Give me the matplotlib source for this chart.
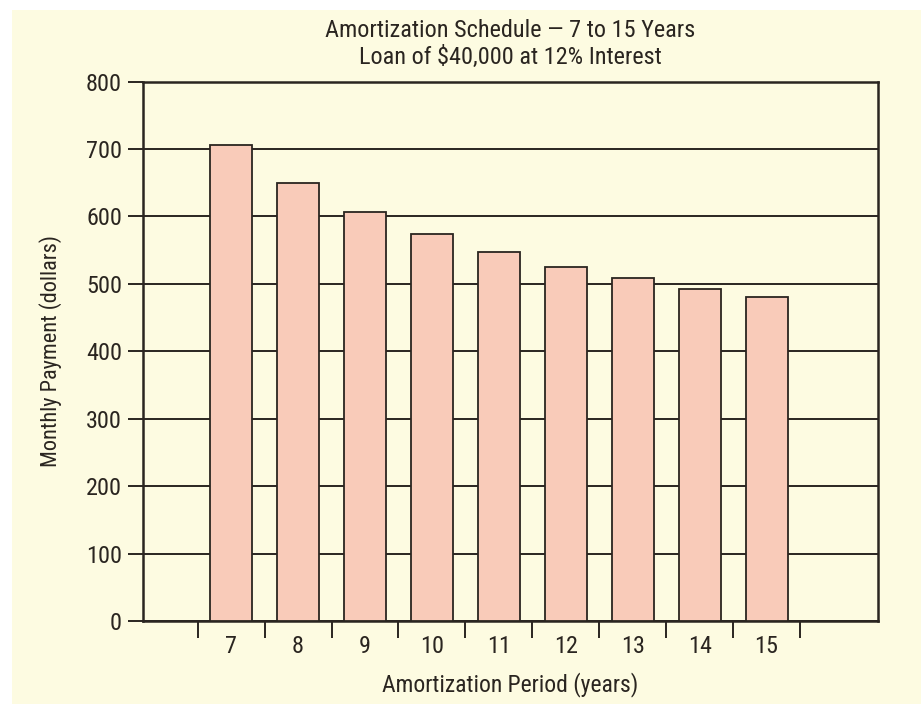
import matplotlib.pyplot as plt
import matplotlib.patches as mpatches
import numpy as np

years = [7, 8, 9, 10, 11, 12, 13, 14, 15]
payments = [706, 650, 607, 574, 547, 525, 508, 493, 480]
y_ticks = [0, 100, 200, 300, 400, 500, 600, 700, 800]

plt.rcParams['font.family'] = ['Roboto Condensed', 'Archivo Narrow', 'PT Sans Narrow',
                               'Liberation Sans', 'DejaVu Sans']

ink = '#2a2520'
cream = '#fdfbe1'
fig = plt.figure(figsize=(9.21, 7.04), dpi=100, facecolor=cream)
# white paper margin along the top and left edges
fig.patches.append(mpatches.Rectangle((0, 0.986), 1, 0.014, transform=fig.transFigure,
                                      facecolor='white', edgecolor='none', zorder=0))
fig.patches.append(mpatches.Rectangle((0, 0), 0.013, 1, transform=fig.transFigure,
                                      facecolor='white', edgecolor='none', zorder=0))

ax = fig.add_axes([0.155, 0.118, 0.798, 0.766])
ax.set_facecolor(cream)

x = np.array(years)
ax.bar(x, payments, width=0.63, color='#f9cbb9', edgecolor=ink, linewidth=1.3, zorder=3)

ax.set_ylim(0, 800)
ax.set_xlim(5.68, 16.66)
ax.set_yticks(y_ticks)
ax.grid(axis='y', color=ink, linewidth=1.4, zorder=1)
ax.tick_params(axis='y', direction='out', length=11, width=1.4, labelsize=17.5, pad=4,
               color=ink, labelcolor=ink)

# tick marks sit between the years, labels sit under the bars
ax.set_xticks(np.arange(6.5, 16.0, 1.0))
ax.set_xticklabels([])
ax.set_xticks(x, minor=True)
ax.set_xticklabels([str(y) for y in years], minor=True)
ax.tick_params(axis='x', which='major', direction='out', length=12, width=1.4, color=ink)
ax.tick_params(axis='x', which='minor', length=0, labelsize=17.5, pad=10, labelcolor=ink)

for side in ['left', 'right', 'top', 'bottom']:
    ax.spines[side].set_linewidth(1.8)
    ax.spines[side].set_color(ink)

ax.set_ylabel('Monthly Payment (dollars)', fontsize=16, color=ink, labelpad=17)
ax.set_xlabel('Amortization Period (years)', fontsize=17, color=ink, labelpad=10)
ax.set_title('Amortization Schedule \u2014 7 to 15 Years\nLoan of $40,000 at 12% Interest',
             fontsize=17.5, color=ink, linespacing=1.2, pad=13)

fig.savefig('out.png', dpi=100, facecolor=fig.get_facecolor())
